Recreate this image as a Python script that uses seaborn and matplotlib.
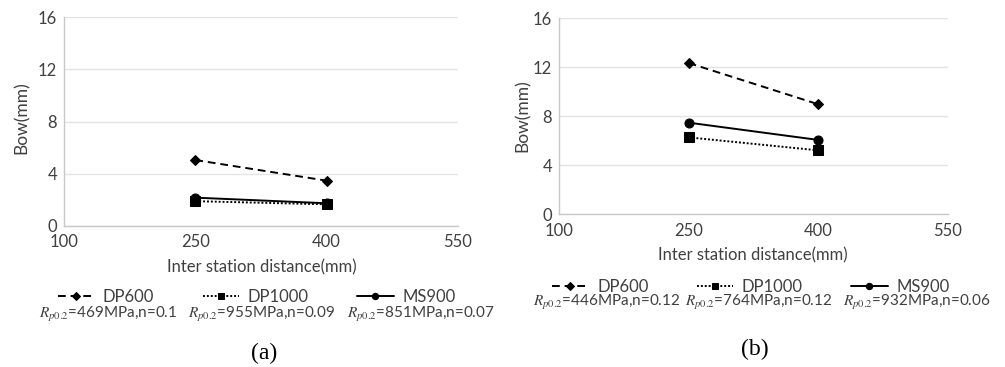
import numpy as np
import pandas as pd
import matplotlib
matplotlib.use("Agg")
import matplotlib.pyplot as plt
import seaborn as sns

# ---- data ----
distance = [250, 400]
materials = ["DP600", "DP1000", "MS900"]
bow_a_dp600 = [5.05, 3.47]
bow_a_dp1000 = [1.90, 1.66]
bow_a_ms900 = [2.17, 1.74]
bow_b_dp600 = [12.35, 8.98]
bow_b_dp1000 = [6.28, 5.22]
bow_b_ms900 = [7.48, 6.07]
props_a = ["=469MPa,n=0.1", "=955MPa,n=0.09", "=851MPa,n=0.07"]
props_b = ["=446MPa,n=0.12", "=764MPa,n=0.12", "=932MPa,n=0.06"]
xticks = [100, 250, 400, 550]
yticks = [0, 4, 8, 12, 16]
panel_labels = ["(a)", "(b)"]

sns.set_theme(style="white")
plt.rcParams["font.family"] = ["Lato", "DejaVu Sans"]
plt.rcParams["mathtext.fontset"] = "stix"

W, H = 1005, 367
fig = plt.figure(figsize=(W / 100, H / 100), dpi=100)

def px(x0, y0, x1, y1):
    return [x0 / W, 1 - y1 / H, (x1 - x0) / W, (y1 - y0) / H]

ax_a = fig.add_axes(px(64, 17, 458, 226))
ax_b = fig.add_axes(px(559, 18.3, 948, 214.3))

dashes = {"DP600": (4, 2.5), "DP1000": (1, 1), "MS900": ""}
markers = {"DP600": "D", "DP1000": "s", "MS900": "o"}
msizes = {"DP600": 5.5, "DP1000": 6.5, "MS900": 6.5}

def make_df(v1, v2, v3):
    rows = []
    for m, vals in zip(materials, [v1, v2, v3]):
        for d, v in zip(distance, vals):
            rows.append({"distance": d, "bow": v, "material": m})
    return pd.DataFrame(rows)

df_a = make_df(bow_a_dp600, bow_a_dp1000, bow_a_ms900)
df_b = make_df(bow_b_dp600, bow_b_dp1000, bow_b_ms900)

grid_c = "#e3e3e3"
spine_c = "#c8c8c8"
text_c = "#404040"

for ax, df in [(ax_a, df_a), (ax_b, df_b)]:
    for m in materials:
        sub = df[df.material == m]
        sns.lineplot(data=sub, x="distance", y="bow", ax=ax, color="black",
                     linewidth=1.4, marker=markers[m], markersize=msizes[m],
                     markeredgecolor="black", label=m,
                     linestyle="--" if m == "DP600" else (":" if m == "DP1000" else "-"))
    for line, m in zip(ax.get_lines(), materials):
        if dashes[m]:
            line.set_dashes(dashes[m])
    ax.set_xlim(100, 550)
    ax.set_ylim(0, 16)
    ax.set_xticks(xticks)
    ax.set_yticks(yticks)
    ax.tick_params(axis="both", length=0, labelsize=12, colors=text_c)
    ax.tick_params(axis="x", pad=6)
    ax.tick_params(axis="y", pad=5)
    ax.grid(axis="y", color=grid_c, linewidth=1)
    ax.set_axisbelow(True)
    for s in ["top", "right"]:
        ax.spines[s].set_visible(False)
    for s in ["left", "bottom"]:
        ax.spines[s].set_color(spine_c)
        ax.spines[s].set_linewidth(1)
    ax.set_xlabel("")
    ax.set_ylabel("")
    leg = ax.get_legend()
    if leg:
        leg.remove()

# axis labels
fig.text(22 / W, 1 - 118 / H, "Bow(mm)", rotation=90, ha="center", va="center",
         fontsize=12.5, color=text_c)
fig.text(523 / W, 1 - 116 / H, "Bow(mm)", rotation=90, ha="center", va="center",
         fontsize=12.5, color=text_c)
fig.text(262 / W, 1 - 267 / H, "Inter station distance(mm)", ha="center", va="center",
         fontsize=12, color=text_c)
fig.text(753 / W, 1 - 255 / H, "Inter station distance(mm)", ha="center", va="center",
         fontsize=12, color=text_c)

# legends
for ax, ly, x0 in [(ax_a, 297, 58), (ax_b, 287, 552)]:
    handles = ax.get_lines()[:3]
    leg = fig.legend(handles, materials, loc="center left",
                     bbox_to_anchor=(x0 / W, 1 - ly / H), ncol=3, frameon=False,
                     fontsize=12, handlelength=2.2, handletextpad=0.5,
                     columnspacing=2.9, borderaxespad=0, borderpad=0,
                     markerscale=0.7)
    for t in leg.get_texts():
        t.set_color(text_c)

for props, centers, ly in [(props_a, [108, 262, 421], 315), (props_b, [607, 759, 917], 303)]:
    for p, cx in zip(props, centers):
        fig.text(cx / W, 1 - ly / H, r"$R_{p0.2}$" + p, ha="center", va="center",
                 fontsize=11, color=text_c)

fig.text(264 / W, 1 - 353 / H, panel_labels[0], ha="center", va="center",
         fontsize=17, family=["Liberation Serif", "DejaVu Serif"], color="black")
fig.text(755 / W, 1 - 349 / H, panel_labels[1], ha="center", va="center",
         fontsize=17, family=["Liberation Serif", "DejaVu Serif"], color="black")

fig.savefig("out.png", dpi=100, facecolor="white")
